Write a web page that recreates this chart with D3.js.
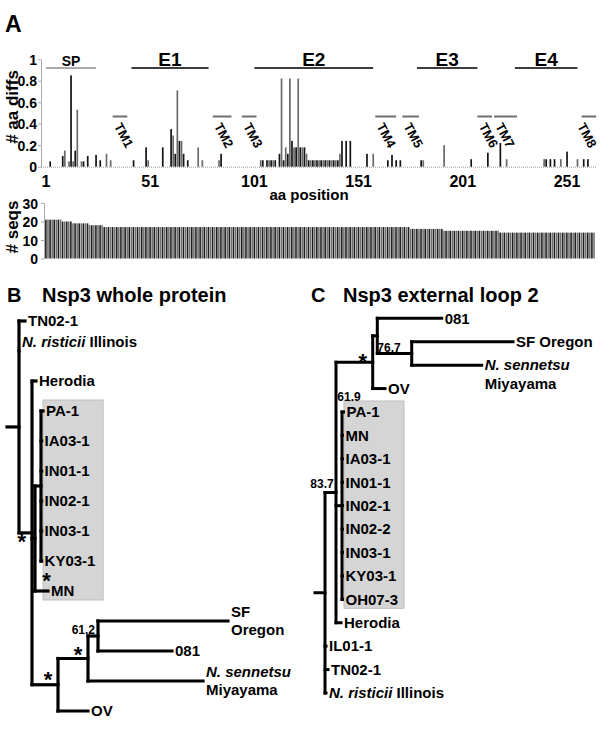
<!DOCTYPE html>
<html><head><meta charset="utf-8">
<script src="https://cdn.jsdelivr.net/npm/d3@7"></script>
<style>
body{margin:0;background:#fff}
svg{display:block}
text{font-family:"Liberation Sans",Arial,sans-serif;font-weight:bold;fill:#000}
</style>
</head><body>
<svg id="fig" width="600" height="729"></svg>
<script>
// ================= DATA =================
// Panel A
const positionTicks = [1, 51, 101, 151, 201, 251];
const diffTicks = [0, 0.2, 0.4, 0.6, 0.8, 1];
const diffTickLabels = ["0", "0.2", "0.4", "0.6", "0.8", "1"];
const seqTicks = [0, 10, 20, 30];
const totalPositions = 264;

const aaDiffPositions = [3, 9, 10, 12, 13, 14, 15, 16, 18, 19, 21, 25, 27, 30, 32, 43, 49, 50, 57,
  61, 62, 63, 64, 65, 66, 67, 69, 74, 76, 84, 85,
  104, 105, 107, 108, 109, 110, 111, 113, 114, 115, 116, 117, 118, 119, 120, 121, 122, 123, 124, 125, 126,
  127, 128, 129, 130, 131, 132, 133, 134, 135, 136, 137, 138, 139, 140, 141, 142, 143, 145, 147,
  155, 158, 165, 167, 169, 171, 181, 182, 192,
  205, 213, 219, 222, 240, 241, 243, 245, 248, 251, 256, 259, 261];
const aaDiffValues = [0.05, 0.10, 0.15, 0.05, 0.85, 0.05, 0.15, 0.53, 0.05, 0.05, 0.10, 0.11, 0.06, 0.12, 0.06, 0.06, 0.18, 0.06, 0.18,
  0.35, 0.29, 0.12, 0.71, 0.24, 0.24, 0.12, 0.06, 0.18, 0.06, 0.06, 0.12,
  0.06, 0.06, 0.06, 0.06, 0.06, 0.06, 0.06, 0.12, 0.82, 0.06, 0.18, 0.12, 0.82, 0.24, 0.18, 0.18, 0.82, 0.18, 0.18, 0.18, 0.12,
  0.06, 0.06, 0.06, 0.06, 0.06, 0.06, 0.06, 0.06, 0.06, 0.06, 0.06, 0.06, 0.06, 0.06, 0.06, 0.12, 0.24, 0.24, 0.24,
  0.12, 0.12, 0.06, 0.11, 0.06, 0.06, 0.06, 0.06, 0.20,
  0.07, 0.13, 0.22, 0.07, 0.07, 0.07, 0.07, 0.07, 0.07, 0.14, 0.07, 0.07, 0.07];

const seqRunStarts = [1, 9, 14, 22, 29, 176, 192, 219];
const seqRunEnds = [8, 13, 21, 28, 175, 191, 218, 264];
const seqRunValues = [21, 20, 19, 18, 17, 16, 15, 14];

const regionNames = ["SP", "E1", "E2", "E3", "E4"];
const regionStarts = [1, 42, 101, 179, 226];
const regionEnds = [25, 79, 158, 208, 256];

const tmNames = ["TM1", "TM2", "TM3", "TM4", "TM5", "TM6", "TM7", "TM8"];
const tmStarts = [33, 81, 95, 159, 172, 208, 216, 258];
const tmEnds = [40, 90, 102, 169, 180, 215, 227, 265];

// Panel B tree (branch lengths)
const treeB = {id: "rootB", len: 0, children: [
  {name: "TN02-1", len: 6},
  {name: "N. risticii Illinois", len: 0},
  {id: "b32", len: 13, support: "*", children: [
    {name: "Herodia", len: 4},
    {id: "b35", len: 3, children: [
      {id: "b41", len: 6, children: [
        {name: "PA-1", len: 2, shade: true},
        {name: "IA03-1", len: 0.6, shade: true},
        {name: "IN01-1", len: 0.6, shade: true},
        {name: "IN02-1", len: 0.6, shade: true},
        {name: "IN03-1", len: 0.6, shade: true},
        {name: "KY03-1", len: 0.6, shade: true}
      ]},
      {name: "MN", id: "bMN", len: 13, support: "*", shade: true}
    ]},
    {id: "b58", len: 26, support: "*", children: [
      {id: "b88", len: 30, support: "*", children: [
        {id: "b98", len: 10, support: "61.2", children: [
          {name: "SF\nOregon", len: 130},
          {name: "081", len: 74}
        ]},
        {name: "N. sennetsu\nMiyayama", len: 115}
      ]},
      {name: "OV", len: 30}
    ]}
  ]}
]};

// Panel C tree
const treeC = {id: "rootC", len: 0, children: [
  {id: "ca", len: 11, support: "83.7", children: [
    {id: "cu", len: 36.7, support: "*", children: [
      {id: "cw", len: 4.6, children: [
        {name: "081", len: 64.4},
        {id: "cx", len: 34.4, support: "76.7", children: [
          {name: "SF Oregon", len: 101.3},
          {name: "N. sennetsu\nMiyayama", len: 70}
        ]}
      ]},
      {name: "OV", len: 12.3}
    ]},
    {id: "cb", len: 6, support: "61.9", children: [
      {name: "PA-1", len: 1.5, shade: true},
      {name: "MN", len: 0.5, shade: true},
      {name: "IA03-1", len: 0.5, shade: true},
      {name: "IN01-1", len: 0.5, shade: true},
      {name: "IN02-1", len: 0.5, shade: true},
      {name: "IN02-2", len: 0.5, shade: true},
      {name: "IN03-1", len: 0.5, shade: true},
      {name: "KY03-1", len: 0.5, shade: true},
      {name: "OH07-3", len: 0.5, shade: true}
    ]},
    {name: "Herodia", len: 5}
  ]},
  {name: "IL01-1", len: 1},
  {name: "TN02-1", len: 3},
  {name: "N. risticii Illinois", len: 1}
]};

// ================= DRAW =================
const svg = d3.select("#fig");
const DARK = "#141414", MID = "#6a6a6a";

// ---------- Panel A ----------
const x = d3.scaleLinear().domain([1, 251]).range([46, 567]);
const yDiff = d3.scaleLinear().domain([0, 1]).range([166.7, 59.2]);
const ySeq = d3.scaleLinear().domain([0, 30]).range([258.5, 203]);

svg.append("text").attr("x", 5).attr("y", 32).attr("font-size", 23).text("A");

// y axis diffs
const axD = svg.append("g").attr("transform", "translate(41,0)")
  .call(d3.axisLeft(yDiff).tickValues(diffTicks).tickFormat((d, i) => diffTickLabels[i]).tickSize(3).tickSizeOuter(0).tickPadding(1));
axD.select(".domain").attr("stroke", "#aaa");
axD.selectAll(".tick line").attr("stroke", "#aaa");
axD.selectAll(".tick text").attr("font-size", 14).attr("font-family", null).attr("fill", "#000").attr("dy", "0.36em");

// dotted baseline
svg.append("line").attr("x1", 41).attr("x2", x(totalPositions) + 2).attr("y1", yDiff(0) + 0.5).attr("y2", yDiff(0) + 0.5)
  .attr("stroke", "#9a9a9a").attr("stroke-width", 1).attr("stroke-dasharray", "1,1");

// diff bars
const diffData = aaDiffPositions.map((p, i) => ({p, v: aaDiffValues[i]}));
svg.append("g").selectAll("rect").data(diffData).join("rect")
  .attr("x", d => x(d.p) - 0.8).attr("width", 1.7)
  .attr("y", d => yDiff(d.v)).attr("height", d => yDiff(0) - yDiff(d.v))
  .attr("fill", d => d.p % 2 ? DARK : MID);

// x tick labels
svg.append("g").selectAll("text").data(positionTicks).join("text")
  .attr("x", d => x(d)).attr("y", 187).attr("text-anchor", "middle").attr("font-size", 16).text(d => d);
svg.append("text").attr("x", 309).attr("y", 200).attr("text-anchor", "middle").attr("font-size", 15).text("aa position");

svg.append("text").attr("transform", "translate(18,107) rotate(-90)").attr("text-anchor", "middle").attr("font-size", 17).text("# aa diffs");
svg.append("text").attr("transform", "translate(18,227) rotate(-90)").attr("text-anchor", "middle").attr("font-size", 17).text("# seqs");

// region bars (SP, E1..E4)
const regions = regionNames.map((n, i) => ({n, s: regionStarts[i], e: regionEnds[i]}));
svg.append("g").selectAll("line").data(regions).join("line")
  .attr("x1", d => x(d.s)).attr("x2", d => x(d.e)).attr("y1", 68).attr("y2", 68)
  .attr("stroke", d => d.n === "SP" ? "#aaaaaa" : "#3c3c3c").attr("stroke-width", 2);
svg.append("g").selectAll("text").data(regions).join("text")
  .attr("x", d => (x(d.s) + x(d.e)) / 2).attr("y", 65.5).attr("text-anchor", "middle")
  .attr("font-size", d => d.n === "SP" ? 14 : 19).text(d => d.n);

// TM bars
const tms = tmNames.map((n, i) => ({n, s: tmStarts[i], e: tmEnds[i]}));
svg.append("g").selectAll("line").data(tms).join("line")
  .attr("x1", d => x(d.s)).attr("x2", d => x(d.e)).attr("y1", 116.5).attr("y2", 116.5)
  .attr("stroke", "#6e6e6e").attr("stroke-width", 2);
svg.append("g").selectAll("text").data(tms).join("text")
  .attr("transform", d => `translate(${Math.min(x(d.s) + 1, 577)},${126}) rotate(62)`)
  .attr("font-size", 13).text(d => d.n);

// seqs chart
const axS = svg.append("g").attr("transform", "translate(44,0)")
  .call(d3.axisLeft(ySeq).tickValues(seqTicks).tickSize(3).tickSizeOuter(0).tickPadding(3));
axS.select(".domain").attr("stroke", "#aaa");
axS.selectAll(".tick line").attr("stroke", "#aaa");
axS.selectAll(".tick text").attr("font-size", 14).attr("font-family", null).attr("fill", "#000").attr("dy", "0.36em");

const seqData = [];
seqRunStarts.forEach((s, i) => { for (let p = s; p <= seqRunEnds[i]; p++) seqData.push({p, v: seqRunValues[i]}); });
svg.append("g").selectAll("rect").data(seqData).join("rect")
  .attr("x", d => x(d.p) - 0.9).attr("width", 1.6)
  .attr("y", d => ySeq(d.v)).attr("height", d => ySeq(0) - ySeq(d.v))
  .attr("fill", d => d.p % 2 ? "#1e1e1e" : "#707070");

// ---------- Trees ----------
function layout(root) {
  const leaves = [], nodes = [];
  (function walk(n, parent, depth) {
    n.parent = parent; n.depth = depth + n.len; nodes.push(n);
    if (n.children) {
      n.children.forEach(c => walk(c, n, n.depth));
      n.row = (n.children[0].row + n.children[n.children.length - 1].row) / 2;
    } else { n.row = leaves.length; leaves.push(n); }
  })(root, null, 0);
  return {leaves, nodes};
}

function addLabel(g, xPos, yBase, line, size) {
  const t = g.append("text").attr("x", xPos).attr("y", yBase).attr("font-size", size).attr("xml:space", "preserve");
  const m = line.match(/^(N\. \S+)(.*)$/);
  if (m) {
    t.append("tspan").attr("font-style", "italic").text(m[1]);
    if (m[2]) t.append("tspan").text(m[2]);
  } else t.text(line);
}

function drawTree(root, opt) {
  const {leaves, nodes} = layout(root);
  const maxDepth = d3.max(leaves, d => d.depth);
  const dx = d3.scaleLinear().domain([0, maxDepth]).range(opt.xRange);
  const ry = d3.scaleLinear().domain([0, leaves.length - 1]).range(opt.yRange);
  const g = svg.append("g");

  // shaded clade box
  const sh = leaves.filter(d => d.shade);
  const bx = d3.min(sh, d => dx(d.depth)) + 1.5;
  g.append("rect").attr("x", bx).attr("y", ry(sh[0].row) - 11)
    .attr("width", 60).attr("height", ry(sh[sh.length - 1].row) - ry(sh[0].row) + 20)
    .attr("fill", "#d5d5d5").attr("stroke", "#bdbdbd").attr("stroke-width", 1);

  const lines = g.append("g").attr("stroke", "#000").attr("stroke-width", opt.lw).attr("stroke-linecap", "square").attr("fill", "none");
  lines.append("line").attr("x1", dx(0) - opt.stub).attr("x2", dx(0)).attr("y1", ry(root.row)).attr("y2", ry(root.row));
  nodes.forEach(n => {
    if (n.parent) lines.append("line").attr("x1", dx(n.parent.depth)).attr("x2", dx(n.depth)).attr("y1", ry(n.row)).attr("y2", ry(n.row));
    if (n.children) {
      const a = n.children[0].row, b = n.children[n.children.length - 1].row;
      lines.append("line").attr("x1", dx(n.depth)).attr("x2", dx(n.depth)).attr("y1", ry(a)).attr("y2", ry(b));
    }
  });

  // leaf labels
  leaves.forEach(l => {
    const parts = l.name.split("\n");
    const lx = dx(l.depth) + 3, ly = ry(l.row) + ((opt.labelShift || {})[l.name] || 0);
    if (parts.length === 1) addLabel(g, lx, ly + 5.3, parts[0], opt.fs);
    else {
      addLabel(g, lx, ly + opt.two[0], parts[0], opt.fs);
      addLabel(g, lx, ly + opt.two[1], parts[1], opt.fs);
    }
  });

  // support values
  nodes.filter(n => n.support).forEach(n => {
    const p = opt.sup[n.id || n.name];
    let cx = dx(n.depth) + p.dx;
    let cy = (p.ref === "top" ? ry(n.children[0].row) : ry(n.row)) + p.dy;
    if (n.support === "*") {
      g.append("text").attr("x", cx).attr("y", cy + 12.5).attr("text-anchor", "middle").attr("font-size", 22).text("*");
    } else {
      g.append("text").attr("x", cx).attr("y", cy + 4.3).attr("text-anchor", p.anchor || "middle").attr("font-size", 12).text(n.support);
    }
  });
}

// Panel B
svg.append("text").attr("x", 7).attr("y", 302).attr("font-size", 20).text("B");
svg.append("text").attr("x", 42).attr("y", 302).attr("font-size", 20).text("Nsp3 whole protein");
drawTree(treeB, {
  xRange: [19, 228], yRange: [321, 711], lw: 3.2, stub: 12, fs: 15, two: [-4.5, 14],
  labelShift: {"N. risticii Illinois": -9},
  sup: {
    b32: {dx: -10.3, dy: 4},
    bMN: {dx: -1.5, dy: -16},
    b58: {dx: -10, dy: -10},
    b88: {dx: -10, dy: -9},
    b98: {dx: -3, dy: -6, anchor: "end"}
  }
});

// Panel C
svg.append("text").attr("x", 311).attr("y", 302).attr("font-size", 20).text("C");
svg.append("text").attr("x", 343).attr("y", 302).attr("font-size", 20).text("Nsp3 external loop 2");
drawTree(treeC, {
  xRange: [325, 513], yRange: [318.3, 693], lw: 3, stub: 10, fs: 15, two: [5.3, 23.5],
  sup: {
    ca: {dx: -14, dy: -8.5},
    cu: {dx: -10, dy: -6},
    cx: {dx: -22.7, dy: -6},
    cb: {dx: 7, dy: -15, ref: "top"}
  }
});
</script>
</body></html>
